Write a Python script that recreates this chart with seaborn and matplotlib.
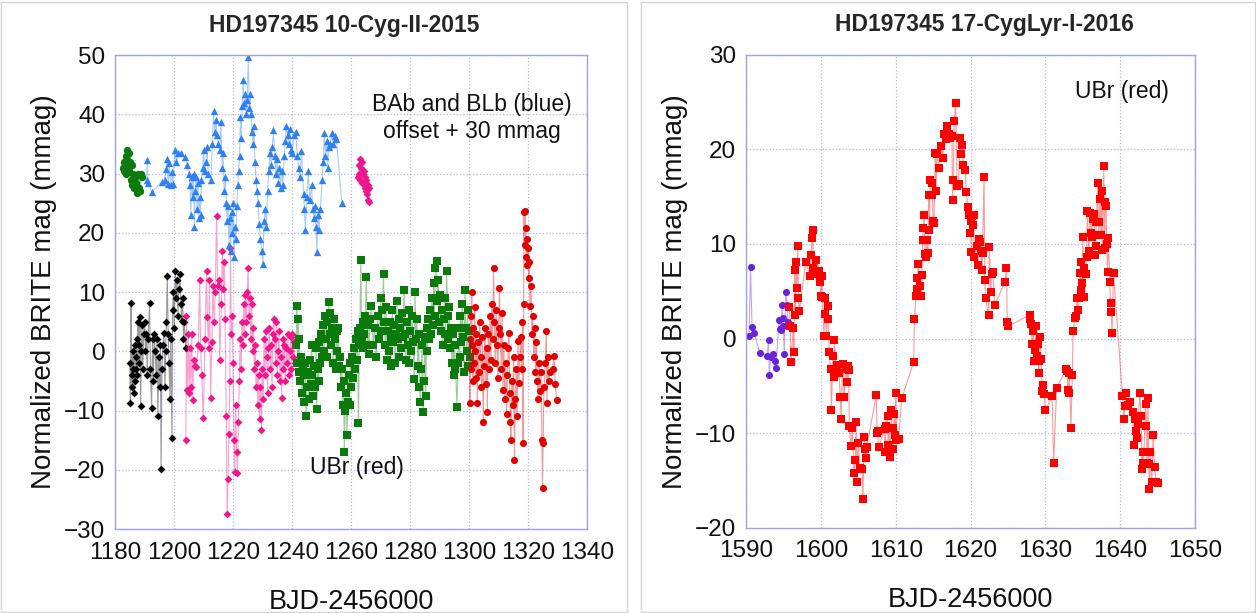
import matplotlib
matplotlib.use("Agg")
import matplotlib.pyplot as plt
from matplotlib.patches import Rectangle
import seaborn as sns
import pandas as pd

# ---- 10-Cyg-II-2015 (left panel), (BJD-2456000, mmag) ----
green_top = [(1182.8, 31.0), (1183.0, 32.0), (1183.2, 30.5), (1183.4, 31.5), (1183.6, 33.0), (1183.8, 30.0),
             (1184.0, 32.5), (1184.2, 34.0), (1184.4, 31.0), (1184.6, 33.5), (1184.8, 30.5), (1185.0, 32.0),
             (1185.3, 29.0), (1185.6, 31.5), (1185.9, 28.0), (1186.2, 30.0), (1186.5, 27.5), (1186.8, 29.5),
             (1187.1, 28.5), (1187.4, 26.8), (1187.7, 30.0), (1188.0, 27.5), (1188.3, 29.8), (1188.6, 27.0),
             (1188.9, 30.0), (1189.2, 29.5)]

blue = [(1190.7, 29.0), (1190.9, 32.3), (1191.2, 28.5), (1192.4, 26.9), (1195.8, 28.6), (1196.8, 29.0),
        (1197.3, 30.8), (1197.6, 32.5), (1198.0, 28.2), (1198.4, 31.8), (1198.8, 28.0), (1199.2, 30.2),
        (1199.6, 28.2), (1200.3, 34.0), (1200.8, 32.0), (1201.5, 33.5), (1202.5, 33.4), (1203.7, 32.8),
        (1204.5, 31.5), (1205.0, 30.0), (1205.4, 28.0), (1205.7, 23.0), (1206.0, 29.5), (1206.3, 26.0),
        (1206.6, 30.0), (1206.9, 21.0), (1207.2, 27.0), (1207.5, 29.5), (1207.8, 24.0), (1208.1, 28.5),
        (1208.4, 22.5), (1208.7, 26.0), (1209.0, 23.0), (1209.3, 29.0), (1209.7, 31.0), (1210.0, 34.0),
        (1210.4, 30.5), (1210.8, 32.0), (1211.2, 34.5), (1211.6, 30.0), (1212.5, 29.0), (1213.0, 35.0),
        (1213.4, 40.5), (1213.8, 37.0), (1214.2, 39.0), (1214.6, 36.5), (1215.0, 35.0), (1215.5, 34.0),
        (1215.9, 38.8), (1216.3, 31.0), (1216.6, 33.5), (1217.0, 27.0), (1217.4, 29.5), (1217.7, 25.0),
        (1218.0, 22.0), (1218.3, 24.5), (1218.6, 18.0), (1218.9, 22.5), (1219.2, 17.0), (1219.5, 23.5),
        (1219.8, 20.0), (1220.1, 25.0), (1220.4, 16.0), (1220.7, 21.0), (1221.0, 19.0), (1221.3, 24.5),
        (1221.6, 28.0), (1221.9, 30.5), (1222.2, 33.0), (1222.5, 39.5), (1222.8, 36.0), (1223.1, 41.5),
        (1223.5, 45.8), (1223.8, 42.0), (1224.1, 43.5), (1224.4, 40.0), (1224.8, 42.5), (1225.2, 49.7),
        (1225.5, 41.0), (1225.8, 43.5), (1226.1, 40.0), (1226.4, 37.0), (1226.8, 35.0), (1227.1, 38.0),
        (1227.4, 32.0), (1227.8, 29.0), (1228.1, 27.0), (1228.5, 25.0), (1228.9, 21.5), (1229.3, 19.0),
        (1229.7, 17.0), (1230.1, 14.8), (1230.5, 22.0), (1230.9, 24.0), (1231.3, 21.0), (1231.7, 27.0),
        (1232.1, 30.5), (1232.5, 33.5), (1232.9, 31.5), (1233.3, 34.5), (1233.7, 37.3), (1234.1, 33.0),
        (1234.5, 30.0), (1234.9, 32.5), (1235.3, 28.5), (1235.7, 31.0), (1236.1, 27.5), (1236.5, 30.5),
        (1236.9, 28.0), (1237.3, 33.0), (1237.7, 35.5), (1238.1, 38.0), (1238.5, 36.5), (1238.9, 35.0),
        (1239.3, 37.5), (1239.7, 34.0), (1240.1, 33.5), (1240.6, 36.5), (1241.3, 37.0), (1241.7, 33.0),
        (1242.3, 31.0), (1242.7, 29.5), (1243.2, 33.8), (1243.9, 26.6), (1244.2, 24.0), (1244.5, 20.4),
        (1245.0, 26.0), (1245.5, 30.5), (1246.0, 25.5), (1246.6, 28.0), (1247.0, 24.0), (1247.4, 22.5),
        (1247.8, 24.5), (1248.1, 21.0), (1248.4, 16.8), (1248.8, 23.0), (1249.2, 20.5), (1249.6, 24.0),
        (1250.2, 29.0), (1250.6, 32.0), (1250.9, 36.8), (1251.3, 33.0), (1251.7, 35.5), (1252.1, 31.0),
        (1252.5, 34.5), (1252.9, 35.0), (1253.4, 36.8), (1253.9, 35.0), (1254.5, 36.3), (1255.0, 35.8),
        (1256.9, 25.0)]

pink_top = [(1262.4, 29.5), (1262.6, 31.5), (1262.8, 30.0), (1263.0, 32.5), (1263.2, 29.0), (1263.4, 31.0),
            (1263.6, 28.5), (1263.8, 32.0), (1264.0, 30.0), (1264.2, 28.5), (1264.4, 30.5), (1264.6, 27.5),
            (1264.8, 29.5), (1265.0, 27.0), (1265.2, 29.0), (1265.4, 26.5), (1265.6, 28.0), (1265.8, 25.5),
            (1266.0, 27.5), (1266.1, 25.2)]

black = [(1185.0, -2.0), (1185.2, -8.7), (1185.4, 8.1), (1185.6, -4.0), (1185.8, -6.0), (1186.0, 0.0),
         (1186.2, -3.0), (1186.4, -7.0), (1186.6, 1.0), (1186.8, -5.0), (1187.0, -1.0), (1187.2, -3.0),
         (1187.4, 2.0), (1187.6, -4.0), (1187.8, 5.0), (1188.0, 1.0), (1188.2, -2.0), (1188.4, 5.8),
         (1188.7, -9.3), (1188.9, 0.0), (1189.1, 4.5), (1189.4, -3.0), (1189.7, 3.0), (1190.0, 5.0),
         (1190.3, 0.0), (1190.6, 3.0), (1190.9, -4.0), (1191.2, 2.0), (1191.7, 8.1), (1192.0, -3.0),
         (1192.4, -9.6), (1192.7, 2.0), (1193.0, -5.0), (1193.3, 3.0), (1193.6, 0.0), (1193.9, -4.0),
         (1194.2, 2.0), (1194.5, -11.0), (1194.8, -1.0), (1195.1, -6.0), (1195.4, 1.0), (1195.6, -19.8),
         (1195.9, -3.0), (1196.2, 1.0), (1196.6, 3.1), (1196.9, -6.0), (1197.2, 0.0), (1197.4, 5.0),
         (1197.7, 12.7), (1198.0, 3.0), (1198.3, -2.0), (1198.6, -8.0), (1198.9, 2.0), (1199.3, -14.6),
         (1199.5, 7.0), (1199.8, 10.0), (1200.1, 4.0), (1200.4, 13.6), (1200.7, 9.0), (1201.0, 12.0),
         (1201.3, 6.0), (1201.6, 10.5), (1202.0, 13.0), (1202.3, 8.0), (1202.6, 5.1), (1202.9, 9.0),
         (1203.2, 2.0), (1203.5, 5.0), (1204.0, 0.5)]

pink = [(1204.0, -15.0), (1204.2, 6.0), (1204.5, -6.5), (1204.8, 3.0), (1205.1, -7.0), (1205.4, 0.5),
        (1205.7, -6.0), (1206.0, 3.0), (1206.3, -8.3), (1206.6, -1.5), (1207.0, -2.5), (1207.6, -2.7),
        (1208.2, 1.0), (1208.7, 12.0), (1209.0, 0.5), (1209.4, -4.0), (1209.9, -11.3), (1210.5, 2.0),
        (1211.0, 13.5), (1211.3, 5.8), (1211.7, 0.5), (1212.0, 12.0), (1212.4, -7.8), (1212.8, 1.5),
        (1213.2, 11.0), (1213.6, 5.0), (1214.0, 10.0), (1214.4, 22.8), (1214.8, 11.0), (1215.2, 12.0),
        (1215.5, -1.5), (1216.0, 8.0), (1216.4, 17.0), (1216.7, 10.5), (1217.0, 15.0), (1217.3, 5.5),
        (1217.7, -11.0), (1218.0, -27.5), (1218.3, -21.5), (1218.6, -14.0), (1218.9, -5.0), (1219.1, 17.5),
        (1219.4, 3.0), (1219.7, 6.0), (1220.0, -2.0), (1220.3, -15.0), (1220.6, -20.3), (1220.9, -9.0),
        (1221.2, -17.0), (1221.5, -20.5), (1221.8, -12.0), (1222.1, -5.0), (1222.4, 2.0), (1222.7, -3.0),
        (1223.0, 5.0), (1223.3, 1.0), (1223.6, 8.0), (1223.9, 3.0), (1224.2, 9.5), (1224.5, 5.0),
        (1224.8, 10.0), (1225.1, 14.0), (1225.4, 6.0), (1225.7, 9.0), (1226.0, 2.0), (1226.3, 8.0),
        (1226.6, 0.0), (1226.9, 4.0), (1227.2, -3.0), (1227.5, 1.0), (1227.8, -6.0), (1228.1, -2.0),
        (1228.4, -9.0), (1228.7, -4.0), (1229.0, -11.5), (1229.3, -6.0), (1229.6, -13.2), (1229.9, -3.0),
        (1230.2, -8.0), (1230.5, 2.0), (1230.8, -4.0), (1231.1, 3.5), (1231.4, -1.0), (1231.7, -7.0),
        (1232.0, 0.5), (1232.3, 4.0), (1232.6, -3.0), (1232.9, 1.0), (1233.2, -6.0), (1233.5, 3.0),
        (1233.8, 5.5), (1234.1, 2.0), (1234.4, -2.0), (1234.7, 5.0), (1235.0, -4.0), (1235.3, 0.0),
        (1235.6, 3.5), (1235.9, -5.0), (1236.2, -1.0), (1236.5, -7.8), (1236.8, 2.0), (1237.1, -3.0),
        (1237.4, 1.0), (1237.7, -5.0), (1238.0, 0.5), (1238.3, -2.0), (1238.6, 3.0), (1238.9, -4.0),
        (1239.2, 0.0), (1239.5, 2.5), (1239.8, -3.0), (1240.1, 3.0), (1240.4, -1.0), (1240.7, 1.5),
        (1241.0, -2.0)]

green = [(1241.4, 1.0), (1241.6, 7.7), (1241.8, -2.0), (1242.0, 5.5), (1242.2, -3.5), (1242.4, 2.0),
         (1242.7, -5.0), (1243.0, -1.0), (1243.3, -7.0), (1243.6, -3.0), (1243.9, -8.5), (1244.2, -4.0),
         (1244.5, -2.0), (1244.8, -11.0), (1245.1, -6.0), (1245.4, -3.5), (1245.7, -8.0), (1246.0, -1.5),
         (1246.3, -5.5), (1246.6, 1.0), (1246.9, -4.0), (1247.2, -7.5), (1247.5, -2.5), (1247.8, -6.0),
         (1248.1, 0.5), (1248.4, -9.7), (1248.7, -3.0), (1249.0, -5.0), (1249.3, 1.5), (1249.6, -2.0),
         (1249.9, 3.0), (1250.2, -1.0), (1250.5, 4.5), (1250.8, 0.0), (1251.1, 6.0), (1251.4, 2.0),
         (1251.7, 5.0), (1252.0, -1.0), (1252.4, 8.3), (1252.7, 3.0), (1253.0, 6.5), (1253.3, 1.0),
         (1253.6, 4.0), (1253.9, -2.0), (1254.2, 5.5), (1254.5, 2.0), (1254.8, -3.0), (1255.1, 3.5),
         (1255.4, 0.0), (1255.7, 4.0), (1256.0, -2.5), (1256.3, -1.0), (1256.6, -6.0), (1256.9, -3.0),
         (1257.2, -9.0), (1257.5, -5.0), (1257.7, -17.0), (1258.0, -10.0), (1258.3, -7.0), (1258.6, -14.2),
         (1258.9, -8.5), (1259.2, -4.0), (1259.5, -9.0), (1259.8, -2.0), (1260.1, -6.0), (1260.4, -1.0),
         (1260.7, -4.5), (1261.0, 0.5), (1261.3, -3.0), (1261.6, 2.0), (1261.9, -1.5), (1262.2, 3.5),
         (1262.5, -12.1), (1262.8, 1.0), (1263.0, 4.0), (1263.3, 15.5), (1263.6, 2.5), (1263.9, 5.0),
         (1264.2, 0.5), (1264.5, 3.0), (1264.8, 6.0), (1265.2, 12.5), (1265.5, 1.0), (1265.8, 4.5),
         (1266.1, -0.5), (1266.4, 5.5), (1266.9, 7.7), (1267.5, 1.0), (1268.0, 4.0), (1268.5, -1.0),
         (1269.0, 6.0), (1269.5, 2.0), (1270.0, 9.0), (1270.3, 3.5), (1270.6, 7.0), (1271.0, 13.0),
         (1271.3, 5.0), (1271.6, 1.0), (1271.9, 7.5), (1272.2, -1.5), (1272.5, 3.5), (1272.8, 0.0),
         (1273.1, 5.0), (1273.4, -2.5), (1273.7, 2.5), (1274.0, 7.0), (1274.3, 1.5), (1274.6, 4.5),
         (1274.9, -2.0), (1275.2, 3.0), (1275.5, 8.5), (1275.8, 2.0), (1276.1, 5.5), (1276.4, -1.0),
         (1276.7, 4.0), (1277.0, 0.5), (1277.3, 6.5), (1277.6, 2.5), (1278.0, 10.4), (1278.3, 3.0),
         (1278.6, -1.5), (1278.9, 5.0), (1279.2, 1.0), (1279.5, 7.0), (1279.8, -2.0), (1280.1, 3.5),
         (1280.4, 0.0), (1280.7, 6.0), (1281.0, 1.5), (1281.4, -4.7), (1281.7, 10.0), (1282.0, 2.0),
         (1282.3, 5.5), (1282.6, -2.5), (1282.9, 3.0), (1283.2, -6.0), (1283.5, -8.5), (1283.8, -3.0),
         (1284.1, 1.0), (1284.4, -10.3), (1284.7, -5.0), (1285.0, 2.5), (1285.3, -7.5), (1285.6, 4.0),
         (1285.9, 0.0), (1286.2, 5.5), (1286.5, 2.0), (1286.8, 7.0), (1287.1, 3.0), (1287.4, 9.0),
         (1287.7, 4.5), (1288.0, 11.5), (1288.3, 6.0), (1288.6, 14.0), (1289.0, 15.3), (1289.3, 8.5),
         (1289.6, 12.0), (1289.9, 5.0), (1290.2, 9.5), (1290.5, 3.5), (1290.8, 7.0), (1291.1, 1.0),
         (1291.4, 5.5), (1291.7, 9.0), (1292.0, 3.0), (1292.4, 13.6), (1292.7, 6.0), (1293.0, 2.0),
         (1293.3, 7.5), (1293.6, 0.5), (1293.9, 4.0), (1294.2, -2.0), (1294.5, 3.0), (1294.8, -4.0),
         (1295.1, 1.0), (1295.4, -3.0), (1295.9, -9.4), (1296.2, -2.0), (1296.5, 4.0), (1296.8, -1.0),
         (1297.1, 6.0), (1297.4, 1.5), (1297.7, 8.0), (1298.0, 2.5), (1298.3, -3.5), (1298.6, 10.4),
         (1298.9, 4.0), (1299.2, 0.0), (1299.5, 7.0), (1299.8, -2.5), (1300.1, 3.5), (1300.4, -1.0)]

red = [(1300.2, 2.0), (1300.3, -8.8), (1300.5, 6.0), (1300.7, -3.0), (1300.9, 10.0), (1301.1, 1.0),
       (1301.3, -5.0), (1301.5, 4.0), (1301.7, -2.0), (1301.9, 7.5), (1302.1, 0.0), (1302.3, -4.5),
       (1302.5, 3.0), (1302.8, -8.7), (1303.0, 1.5), (1303.3, -3.5), (1303.6, 5.0), (1303.9, -1.0),
       (1304.2, -6.0), (1304.5, 2.5), (1304.8, -12.0), (1305.1, -2.5), (1305.4, 4.0), (1305.7, -5.5),
       (1306.0, 0.5), (1306.2, -10.3), (1306.5, 3.0), (1306.8, -3.0), (1307.1, 6.0), (1307.4, -1.5),
       (1307.7, 8.0), (1308.0, 2.0), (1308.3, 14.1), (1308.6, 5.0), (1308.9, -2.0), (1309.2, 7.0),
       (1309.5, 1.0), (1309.8, -4.5), (1310.0, 4.0), (1310.3, 10.7), (1310.6, 3.0), (1310.9, -3.0),
       (1311.2, 6.5), (1311.5, -6.5), (1311.8, 1.0), (1312.1, -8.0), (1312.4, -2.0), (1312.7, -10.5),
       (1313.0, -4.0), (1313.3, 0.5), (1313.5, 3.1), (1313.8, -7.0), (1314.0, -12.0), (1314.2, -14.9),
       (1314.5, -5.0), (1314.8, -9.0), (1315.1, -1.0), (1315.4, -18.4), (1315.7, -8.0), (1316.0, -3.0),
       (1316.3, -11.0), (1316.6, 1.8), (1316.9, -5.4), (1317.2, -1.0), (1317.5, 2.5), (1317.8, -3.0),
       (1318.1, 5.0), (1318.3, -15.5), (1318.5, 8.0), (1318.6, 23.5), (1318.8, 18.0), (1319.0, 23.7),
       (1319.2, 20.9), (1319.4, 16.0), (1319.6, 19.0), (1319.8, 14.5), (1320.0, 17.5), (1320.2, 12.3),
       (1320.4, 15.0), (1320.7, 7.7), (1321.0, 11.0), (1321.3, 3.0), (1321.6, 6.0), (1321.9, -1.0),
       (1322.2, 4.0), (1322.5, -3.5), (1322.8, 1.5), (1323.1, -5.0), (1323.4, -8.0), (1323.7, -2.0),
       (1324.0, -6.7), (1324.4, -3.5), (1324.7, -14.9), (1324.9, -23.1), (1325.1, -15.5), (1325.4, -6.0),
       (1325.8, -2.0), (1326.2, 3.5), (1326.4, -8.7), (1326.7, -1.0), (1327.0, -5.0), (1327.5, -3.5),
       (1328.3, -3.0), (1328.8, -0.8), (1329.2, -5.5), (1329.7, -8.3)]

# ---- 17-CygLyr-I-2016 (right panel) ----
purple = [(1590.4, 0.3), (1590.6, 7.6), (1590.8, 1.2), (1591.1, 0.6), (1591.8, -1.5), (1592.8, -1.8),
          (1593.0, -0.2), (1593.1, -3.8), (1593.3, -1.9), (1593.6, -1.6), (1593.8, -2.4), (1594.0, -3.1),
          (1594.4, 2.0), (1594.6, 1.0), (1594.7, 0.9), (1594.8, 3.5), (1594.9, 2.2), (1595.0, 1.3),
          (1595.1, -1.6), (1595.3, 4.9), (1595.5, 3.5), (1595.6, 1.8)]

red_2016 = [(1595.8, 3.3), (1595.9, 1.3), (1596.0, -2.5), (1596.3, 1.1), (1596.4, -1.4), (1596.5, 7.2),
            (1596.6, 2.5), (1596.7, 8.1), (1596.8, 5.4), (1596.9, 9.8), (1597.0, 4.3), (1597.1, 2.9),
            (1598.0, 8.1), (1598.5, 6.6), (1598.7, 8.8), (1598.8, 10.6), (1598.9, 11.5), (1599.0, 7.5),
            (1599.1, 6.8), (1599.4, 8.3), (1599.7, 7.1), (1599.9, 6.0), (1600.0, 4.5), (1600.1, 6.6),
            (1600.2, 4.4), (1600.4, 0.3), (1600.5, 2.6), (1600.6, 4.3), (1600.7, 0.3), (1600.9, 3.4),
            (1601.0, 2.1), (1601.1, -1.4), (1601.3, -3.2), (1601.4, -7.6), (1601.6, -1.8), (1601.7, -4.1),
            (1601.8, -0.2), (1602.0, -3.4), (1602.2, -2.8), (1602.4, -3.6), (1602.6, -6.2), (1602.7, -8.5),
            (1602.9, -2.7), (1603.1, -6.2), (1603.3, -3.2), (1603.5, -4.6), (1603.6, -2.9), (1603.7, -3.3),
            (1603.8, -9.2), (1604.0, -11.4), (1604.2, -9.5), (1604.4, -14.2), (1604.6, -12.8), (1604.7, -8.8),
            (1604.8, -15.2), (1605.0, -11.0), (1605.2, -13.7), (1605.5, -13.8), (1605.6, -17.0), (1605.8, -10.4),
            (1605.9, -11.7), (1606.0, -12.6), (1606.1, -11.5), (1607.4, -6.0), (1607.5, -10.0), (1607.6, -9.8),
            (1607.7, -11.5), (1608.5, -9.6), (1608.6, -12.0), (1608.7, -9.2), (1608.9, -8.2), (1609.0, -11.2),
            (1609.1, -9.5), (1609.3, -12.5), (1609.4, -7.6), (1609.6, -11.7), (1609.7, -9.4), (1609.8, -8.0),
            (1609.9, -10.2), (1610.0, -5.8), (1610.1, -10.7), (1610.4, -10.6), (1610.8, -6.3), (1612.4, -2.5),
            (1612.5, 2.1), (1612.7, 4.5), (1612.8, 6.4), (1612.9, 5.2), (1613.0, 7.9), (1613.3, 5.6),
            (1613.4, 4.5), (1613.5, 6.7), (1613.6, 10.4), (1613.7, 11.7), (1613.8, 13.1), (1613.9, 8.9),
            (1614.0, 8.6), (1614.2, 10.4), (1614.3, 9.1), (1614.4, 15.2), (1614.5, 11.5), (1614.6, 16.8),
            (1614.8, 16.5), (1614.9, 15.2), (1615.0, 12.4), (1615.1, 12.2), (1615.3, 19.6), (1615.4, 15.6),
            (1615.5, 19.5), (1615.8, 18.0), (1616.1, 20.4), (1616.3, 19.1), (1616.5, 21.6), (1616.7, 21.1),
            (1616.9, 22.5), (1617.1, 21.6), (1617.3, 21.2), (1617.5, 21.4), (1617.6, 14.7), (1617.7, 16.8),
            (1617.8, 23.0), (1618.0, 24.9), (1618.2, 16.1), (1618.4, 16.3), (1618.6, 21.2), (1618.7, 19.5),
            (1618.9, 20.5), (1619.0, 18.4), (1619.3, 17.8), (1619.4, 15.5), (1619.7, 13.9), (1619.8, 13.1),
            (1619.9, 11.2), (1620.0, 12.4), (1620.1, 9.2), (1620.2, 13.0), (1620.3, 12.0), (1620.4, 13.1),
            (1620.5, 8.6), (1620.8, 9.8), (1621.0, 7.8), (1621.1, 10.5), (1621.2, 10.2), (1621.4, 9.3),
            (1621.5, 7.3), (1621.6, 9.1), (1621.8, 17.1), (1621.9, 6.2), (1622.0, 4.3), (1622.4, 2.5),
            (1622.5, 9.7), (1622.7, 4.9), (1622.8, 6.8), (1623.0, 7.0), (1623.2, 3.5), (1624.6, 6.0),
            (1624.8, 7.5), (1624.9, 1.8), (1625.0, 1.3), (1627.9, 2.5), (1628.0, 2.1), (1628.1, 1.5),
            (1628.2, -0.6), (1628.4, 0.8), (1628.5, -2.4), (1628.6, -1.2), (1628.8, 1.3), (1628.9, -1.8),
            (1629.0, -0.6), (1629.1, -3.6), (1629.2, -2.4), (1629.3, 0.2), (1629.4, -2.2), (1629.6, -5.5),
            (1629.7, -4.9), (1629.8, -5.9), (1630.0, -7.6), (1630.9, -6.1), (1631.1, -13.2), (1631.5, -5.2),
            (1632.8, -3.2), (1632.9, -3.4), (1633.0, -5.4), (1633.1, -5.7), (1633.2, -3.6), (1633.4, -9.4),
            (1633.6, -3.9), (1633.7, 0.8), (1633.9, 2.2), (1634.1, 2.4), (1634.2, 4.3), (1634.4, 3.0),
            (1634.5, 4.3), (1634.6, 6.9), (1634.7, 5.1), (1634.8, 8.1), (1634.9, 5.9), (1635.0, 10.7),
            (1635.1, 4.4), (1635.2, 7.5), (1635.4, 6.8), (1635.5, 8.6), (1635.6, 13.5), (1635.8, 9.3),
            (1636.0, 13.3), (1636.1, 11.2), (1636.2, 10.7), (1636.3, 12.6), (1636.5, 13.2), (1636.6, 8.8),
            (1636.7, 9.8), (1636.8, 12.3), (1637.0, 16.5), (1637.1, 11.0), (1637.2, 12.3), (1637.3, 14.8),
            (1637.4, 11.0), (1637.5, 15.6), (1637.6, 9.4), (1637.8, 18.2), (1637.9, 9.6), (1638.0, 14.4),
            (1638.1, 14.0), (1638.2, 10.0), (1638.3, 7.0), (1638.4, 10.6), (1638.6, 6.0), (1638.7, 3.8),
            (1638.8, 2.8), (1638.9, 0.6), (1639.1, 6.9), (1640.3, -6.1), (1640.5, -8.5), (1640.6, -7.1),
            (1640.8, -5.7), (1641.0, -7.0), (1641.3, -6.7), (1641.7, -7.8), (1641.8, -11.3), (1642.0, -8.5),
            (1642.1, -9.8), (1642.2, -10.5), (1642.4, -9.0), (1642.6, -5.8), (1642.8, -8.2), (1642.9, -13.8),
            (1643.0, -12.0), (1643.1, -13.1), (1643.4, -6.9), (1643.5, -9.2), (1643.6, -13.2), (1643.7, -6.3),
            (1643.8, -13.3), (1643.9, -15.9), (1644.0, -12.0), (1644.2, -15.2), (1644.4, -10.2), (1644.6, -13.6),
            (1644.8, -15.2), (1645.0, -15.3)]


def draw_series(ax, points, color, marker, size):
    df = pd.DataFrame(points, columns=["t", "mag"])
    # thin connecting line, lighter than the markers
    sns.lineplot(data=df, x="t", y="mag", sort=False, estimator=None, color=color,
                 alpha=0.4, linewidth=0.8, ax=ax, legend=False)
    sns.scatterplot(data=df, x="t", y="mag", marker=marker, color=color, s=size,
                    linewidth=0, ax=ax, legend=False)


def style_axes(ax, xlim, ylim, xstep, ystep, title, title_x):
    ax.set_xlim(*xlim)
    ax.set_ylim(*ylim)
    ax.set_xticks(range(xlim[0], xlim[1] + 1, xstep))
    ax.set_yticks(range(ylim[0], ylim[1] + 1, ystep))
    ax.grid(True, color="#b4b4ee", linestyle=":", linewidth=0.9)
    for sp in ax.spines.values():
        sp.set_color("#a0a0f0")
        sp.set_linewidth(1.0)
    ax.tick_params(length=0, labelsize=17.5, labelcolor="#111111")
    ax.tick_params(axis="x", pad=9)
    ax.tick_params(axis="y", pad=7)
    ax.set_xlabel("BJD-2456000", fontsize=19.5, labelpad=18, color="#111111")
    ax.set_ylabel("Normalized BRITE mag (mmag)", fontsize=20, labelpad=5, color="#111111")
    ax.set_title(title, fontsize=16.5, fontweight="bold", pad=17, x=title_x)


sns.set_style("white")
plt.rcParams["font.family"] = ["Liberation Sans", "DejaVu Sans"]

fig = plt.figure(figsize=(12.56, 6.13), dpi=100)
ax1 = fig.add_axes([0.0916, 0.137, 0.3758, 0.773])
ax2 = fig.add_axes([0.594, 0.139, 0.3575, 0.7716])

draw_series(ax1, black, "#000000", "D", 16)
draw_series(ax1, pink, "#f0168c", "D", 16)
draw_series(ax1, green, "#0a7a0a", "s", 28)
draw_series(ax1, red, "#e00000", "o", 26)
draw_series(ax1, blue, "#2f80f0", "^", 28)
draw_series(ax1, green_top, "#0a7a0a", "o", 28)
draw_series(ax1, pink_top, "#f0168c", "D", 16)
style_axes(ax1, (1180, 1340), (-30, 50), 20, 10, "HD197345 10-Cyg-II-2015", 0.485)
ax1.text(0.756, 0.868, "BAb and BLb (blue)\noffset + 30 mmag", transform=ax1.transAxes,
         ha="center", va="center", fontsize=16.5, linespacing=1.2, color="#111111")
ax1.text(0.513, 0.129, "UBr (red)", transform=ax1.transAxes, ha="center", va="center",
         fontsize=16.5, color="#111111")

draw_series(ax2, purple, "#6a22d8", "o", 26)
draw_series(ax2, red_2016, "#ff0000", "s", 34)
style_axes(ax2, (1590, 1650), (-20, 30), 10, 10, "HD197345 17-CygLyr-I-2016", 0.53)
ax2.text(0.837, 0.922, "UBr (red)", transform=ax2.transAxes, ha="center", va="center",
         fontsize=16.5, color="#111111")

# light frames around the two panels
fig.patches.append(Rectangle((0.001, 0.002), 0.498, 0.994, transform=fig.transFigure,
                             fill=False, edgecolor="#d4d4d4", linewidth=1))
fig.patches.append(Rectangle((0.510, 0.002), 0.489, 0.994, transform=fig.transFigure,
                             fill=False, edgecolor="#d4d4d4", linewidth=1))

fig.savefig("out.png", dpi=100)
